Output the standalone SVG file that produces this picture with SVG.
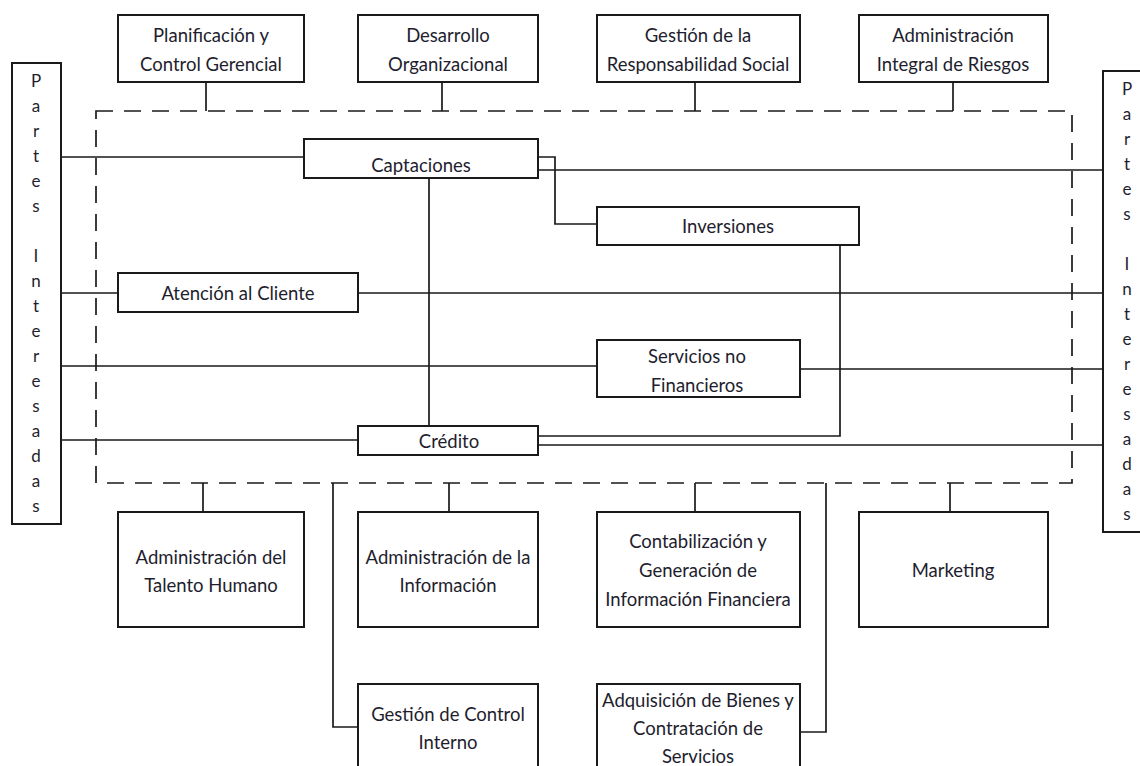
<svg xmlns="http://www.w3.org/2000/svg" width="1140" height="766" viewBox="0 0 1140 766">
<style>
.box{fill:#fff;stroke:#1a1a1a;stroke-width:2}
.ln{fill:none;stroke:#1a1a1a;stroke-width:1.7}
.dash{fill:none;stroke:#1a1a1a;stroke-width:1.7;stroke-dasharray:17 11}
text{font-family:Lato,"Open Sans","Liberation Sans",sans-serif;font-size:18.5px;fill:#1e1e2e;text-anchor:middle;dominant-baseline:central}
.v{font-size:17px}
</style>
<rect width="1140" height="766" fill="#fff"/>
<g id="connectors">
<rect class="dash" x="96" y="111" width="976" height="372"/>
<path class="ln" d="M206 82V111M442 82V111M695 82V111M953 82V111"/>
<path class="ln" d="M203 483V512M449 483V512M695 483V512M950 483V512"/>
<path class="ln" d="M333 483V727H358M826 483V732H800"/>
<path class="ln" d="M61 157H304M538 170H1103M538 157H555V224H597"/>
<path class="ln" d="M429 178V426M840 245V436H538M538 445H1103"/>
<path class="ln" d="M61 293H118M358 293H1103M61 366H597M800 369H1103M61 440H358"/>
</g>
<g id="partes-izq" class="v"><rect class="box" x="12" y="63" width="49" height="461"/>
<text class="v" x="36" y="80">P</text><text class="v" x="36" y="105">a</text><text class="v" x="36" y="130">r</text><text class="v" x="36" y="155">t</text><text class="v" x="36" y="180">e</text><text class="v" x="36" y="205">s</text>
<text class="v" x="36" y="255">I</text><text class="v" x="36" y="280">n</text><text class="v" x="36" y="305">t</text><text class="v" x="36" y="330">e</text><text class="v" x="36" y="355">r</text><text class="v" x="36" y="380">e</text><text class="v" x="36" y="405">s</text><text class="v" x="36" y="430">a</text><text class="v" x="36" y="455">d</text><text class="v" x="36" y="480">a</text><text class="v" x="36" y="505">s</text></g>
<g id="partes-der"><rect class="box" x="1103" y="71" width="50" height="461"/>
<text class="v" x="1127" y="88">P</text><text class="v" x="1127" y="113">a</text><text class="v" x="1127" y="138">r</text><text class="v" x="1127" y="163">t</text><text class="v" x="1127" y="188">e</text><text class="v" x="1127" y="213">s</text>
<text class="v" x="1127" y="263">I</text><text class="v" x="1127" y="288">n</text><text class="v" x="1127" y="313">t</text><text class="v" x="1127" y="338">e</text><text class="v" x="1127" y="363">r</text><text class="v" x="1127" y="388">e</text><text class="v" x="1127" y="413">s</text><text class="v" x="1127" y="438">a</text><text class="v" x="1127" y="463">d</text><text class="v" x="1127" y="488">a</text><text class="v" x="1127" y="513">s</text></g>
<g id="planificacion"><rect class="box" x="118" y="15" width="186" height="67"/><text x="211" y="35">Planificación y</text><text x="211" y="64">Control Gerencial</text></g>
<g id="desarrollo"><rect class="box" x="358" y="15" width="180" height="67"/><text x="448" y="35">Desarrollo</text><text x="448" y="64">Organizacional</text></g>
<g id="responsabilidad"><rect class="box" x="597" y="15" width="203" height="67"/><text x="698" y="35">Gestión de la</text><text x="698" y="64">Responsabilidad Social</text></g>
<g id="riesgos"><rect class="box" x="859" y="15" width="189" height="67"/><text x="953" y="35">Administración</text><text x="953" y="64">Integral de Riesgos</text></g>
<g id="captaciones"><rect class="box" x="304" y="139" width="234" height="39"/><text x="421" y="165">Captaciones</text></g>
<g id="inversiones"><rect class="box" x="597" y="207" width="262" height="38"/><text x="728" y="226">Inversiones</text></g>
<g id="atencion"><rect class="box" x="118" y="273" width="240" height="39"/><text x="238" y="293">Atención al Cliente</text></g>
<g id="servicios"><rect class="box" x="597" y="340" width="203" height="57"/><text x="697" y="356">Servicios no</text><text x="697" y="385">Financieros</text></g>
<g id="credito"><rect class="box" x="358" y="426" width="180" height="29"/><text x="449" y="441">Crédito</text></g>
<g id="talento"><rect class="box" x="118" y="512" width="186" height="115"/><text x="211" y="557">Administración del</text><text x="211" y="585">Talento Humano</text></g>
<g id="informacion"><rect class="box" x="358" y="512" width="180" height="115"/><text x="448" y="557">Administración de la</text><text x="448" y="585">Información</text></g>
<g id="contabilizacion"><rect class="box" x="597" y="512" width="203" height="115"/><text x="698" y="541">Contabilización y</text><text x="698" y="570">Generación de</text><text x="698" y="599">Información Financiera</text></g>
<g id="marketing"><rect class="box" x="859" y="512" width="189" height="115"/><text x="953" y="570">Marketing</text></g>
<g id="control-interno"><rect class="box" x="358" y="684" width="180" height="90"/><text x="448" y="714">Gestión de Control</text><text x="448" y="742">Interno</text></g>
<g id="adquisicion"><rect class="box" x="597" y="684" width="203" height="90"/><text x="698" y="700">Adquisición de Bienes y</text><text x="698" y="728">Contratación de</text><text x="698" y="756">Servicios</text></g>
</svg>
